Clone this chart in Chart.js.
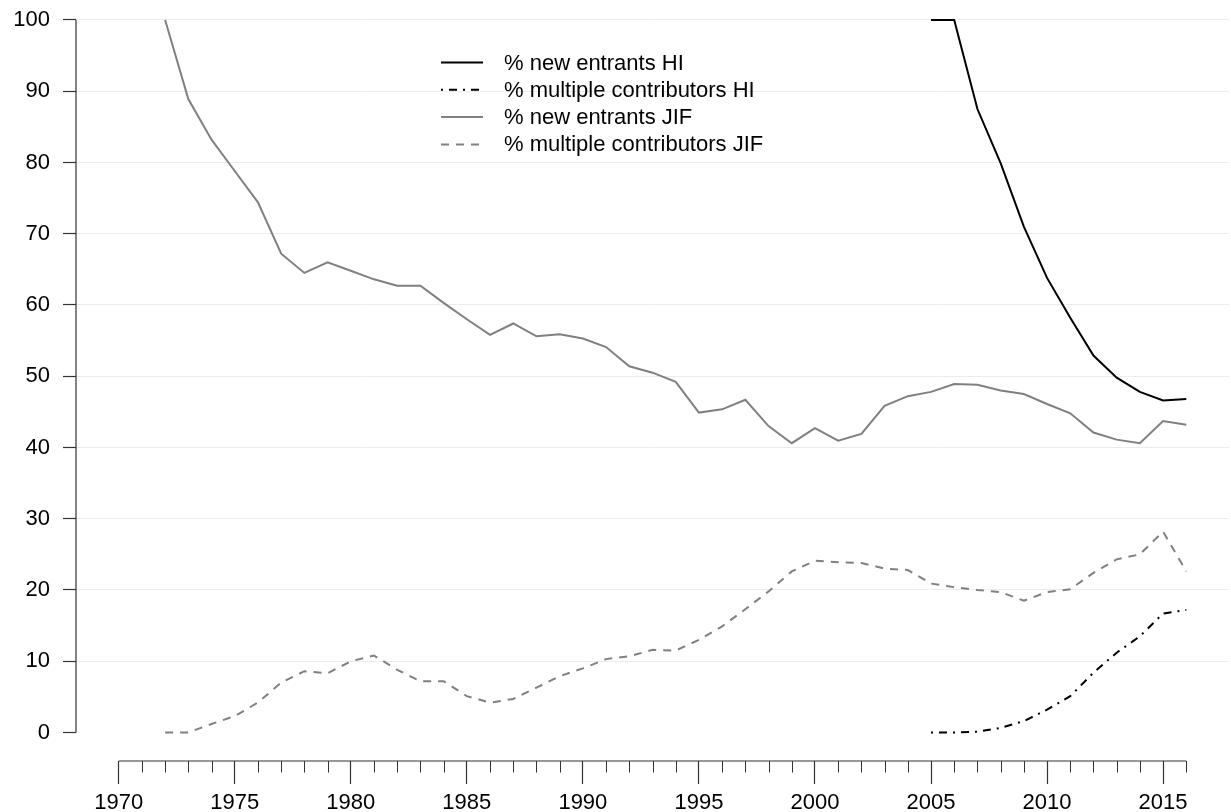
<!DOCTYPE html>
<html>
<head>
<meta charset="utf-8">
<script src="https://cdn.jsdelivr.net/npm/chart.js@4.4.1/dist/chart.umd.min.js"></script>
<style>
  html, body { margin: 0; padding: 0; background: #ffffff; }
  #wrap { width: 1231px; height: 812px; position: relative; }
</style>
</head>
<body>
<div id="wrap"><canvas id="c" width="1231" height="812"></canvas></div>
<script>
// ---- data ----
const jifYears = [1972,1973,1974,1975,1976,1977,1978,1979,1980,1981,1982,1983,1984,1985,1986,1987,1988,1989,1990,1991,1992,1993,1994,1995,1996,1997,1998,1999,2000,2001,2002,2003,2004,2005,2006,2007,2008,2009,2010,2011,2012,2013,2014,2015,2016];
const jifNewEntrants = [100,88.9,83.2,78.8,74.4,67.2,64.5,66.0,64.8,63.6,62.7,62.7,60.3,58.0,55.8,57.4,55.6,55.9,55.3,54.1,51.4,50.5,49.2,44.9,45.35,46.7,43.0,40.6,42.7,40.95,41.9,45.85,47.2,47.8,48.9,48.8,48.0,47.5,46.1,44.8,42.1,41.1,40.6,43.7,43.2];
const jifMultiple = [0,0,1.2,2.3,4.2,7.0,8.6,8.3,10.0,10.8,8.8,7.2,7.2,5.1,4.2,4.7,6.3,7.9,9.0,10.3,10.7,11.6,11.5,13.0,14.9,17.3,19.8,22.6,24.1,23.9,23.8,23.0,22.8,20.9,20.4,20.0,19.7,18.5,19.7,20.1,22.4,24.3,25.0,28.2,22.6];
const hiYears = [2005,2006,2007,2008,2009,2010,2011,2012,2013,2014,2015,2016];
const hiNewEntrants = [100,100,87.5,79.9,71.0,63.8,58.2,52.9,49.8,47.8,46.6,46.8];
const hiMultiple = [0,0,0.1,0.65,1.6,3.2,5.1,8.4,11.2,13.5,16.7,17.2];
const xTickYears = [1970,1971,1972,1973,1974,1975,1976,1977,1978,1979,1980,1981,1982,1983,1984,1985,1986,1987,1988,1989,1990,1991,1992,1993,1994,1995,1996,1997,1998,1999,2000,2001,2002,2003,2004,2005,2006,2007,2008,2009,2010,2011,2012,2013,2014,2015,2016];
const yTickValues = [0,10,20,30,40,50,60,70,80,90,100];
const seriesLabels = ['% new entrants HI','% multiple contributors HI','% new entrants JIF','% multiple contributors JIF'];

const FONT = 'Liberation Sans, Arial, Helvetica, sans-serif';
const FSIZE = 22;
const GRAY = '#808080';

function pts(xs, ys) { return xs.map((x, i) => ({ x: x, y: ys[i] })); }

const axisPlugin = {
  id: 'rAxes',
  afterDraw(chart) {
    const ctx = chart.ctx;
    const xs = chart.scales.x, ys = chart.scales.y;
    const area = chart.chartArea;
    ctx.save();
    ctx.strokeStyle = '#333';
    ctx.lineWidth = 1.2;
    const yx = area.left;
    ctx.beginPath();
    ctx.moveTo(yx, ys.getPixelForValue(yTickValues[0]));
    ctx.lineTo(yx, ys.getPixelForValue(yTickValues[yTickValues.length - 1]));
    ctx.stroke();
    const xy = area.bottom;
    ctx.beginPath();
    ctx.moveTo(xs.getPixelForValue(xTickYears[0]), xy);
    ctx.lineTo(xs.getPixelForValue(xTickYears[xTickYears.length - 1]), xy);
    ctx.stroke();
    ctx.lineWidth = 1;
    xTickYears.forEach(yr => {
      if (yr % 5 !== 0) {
        const px = Math.round(xs.getPixelForValue(yr)) + 0.5;
        ctx.beginPath();
        ctx.moveTo(px, xy);
        ctx.lineTo(px, xy + 11.5);
        ctx.stroke();
      }
    });
    ctx.restore();
  },
  afterDatasetsDraw(chart) {
    const ctx = chart.ctx;
    ctx.save();
    chart.data.datasets.forEach((ds, i) => {
      const y = 62.5 + i * 27.3;
      ctx.strokeStyle = ds.borderColor;
      ctx.lineWidth = ds.borderWidth;
      ctx.setLineDash(ds.borderDash || []);
      ctx.beginPath();
      ctx.moveTo(441, y);
      ctx.lineTo(483, y);
      ctx.stroke();
      ctx.setLineDash([]);
      ctx.fillStyle = '#000';
      ctx.font = FSIZE + 'px ' + FONT;
      ctx.textAlign = 'left';
      ctx.textBaseline = 'middle';
      ctx.fillText(ds.label, 504, y + 1);
    });
    ctx.restore();
  }
};

new Chart(document.getElementById('c'), {
  type: 'line',
  data: {
    datasets: [
      { label: seriesLabels[0], data: pts(hiYears, hiNewEntrants), borderColor: '#000000', borderWidth: 2, borderDash: [], pointRadius: 0, fill: false, tension: 0 },
      { label: seriesLabels[1], data: pts(hiYears, hiMultiple), borderColor: '#000000', borderWidth: 2, borderDash: [2, 6, 8, 6], pointRadius: 0, fill: false, tension: 0 },
      { label: seriesLabels[2], data: pts(jifYears, jifNewEntrants), borderColor: GRAY, borderWidth: 2, borderDash: [], pointRadius: 0, fill: false, tension: 0 },
      { label: seriesLabels[3], data: pts(jifYears, jifMultiple), borderColor: GRAY, borderWidth: 2, borderDash: [8, 7], pointRadius: 0, fill: false, tension: 0 }
    ]
  },
  options: {
    responsive: false,
    animation: false,
    events: [],
    layout: { padding: { left: 0, right: 2, top: 0, bottom: 0 } },
    plugins: { legend: { display: false }, tooltip: { enabled: false }, title: { display: false } },
    scales: {
      x: {
        type: 'linear',
        min: 1968.16,
        max: 2017.84,
        afterBuildTicks: s => { s.ticks = xTickYears.map(v => ({ value: v })); },
        afterFit: s => { s.height = 51; s.paddingLeft = 0; s.paddingRight = 0; },
        border: { display: false },
        grid: {
          drawOnChartArea: false,
          drawTicks: true,
          tickLength: 23,
          lineWidth: 1,
          tickWidth: 1.2,
          tickColor: c => (c.tick && c.tick.value % 5 === 0) ? '#333' : 'rgba(0,0,0,0)'
        },
        ticks: {
          autoSkip: false,
          maxRotation: 0,
          minRotation: 0,
          padding: 6,
          color: '#000',
          font: { family: FONT, size: FSIZE },
          callback: v => (v % 5 === 0 ? String(v) : '')
        }
      },
      y: {
        type: 'linear',
        min: -4,
        max: 102.8,
        afterBuildTicks: s => { s.ticks = yTickValues.map(v => ({ value: v })); },
        afterFit: s => { s.width = 76; s.paddingTop = 0; s.paddingBottom = 0; },
        border: { display: false },
        grid: {
          drawOnChartArea: true,
          drawTicks: true,
          tickLength: 13,
          lineWidth: 1,
          tickWidth: 1.2,
          color: c => (c.tick && c.tick.value === 0) ? 'rgba(0,0,0,0)' : '#ececec',
          tickColor: '#333'
        },
        ticks: {
          padding: 13,
          color: '#000',
          font: { family: FONT, size: FSIZE },
          callback: v => String(v)
        }
      }
    }
  },
  plugins: [axisPlugin]
});
</script>
</body>
</html>
